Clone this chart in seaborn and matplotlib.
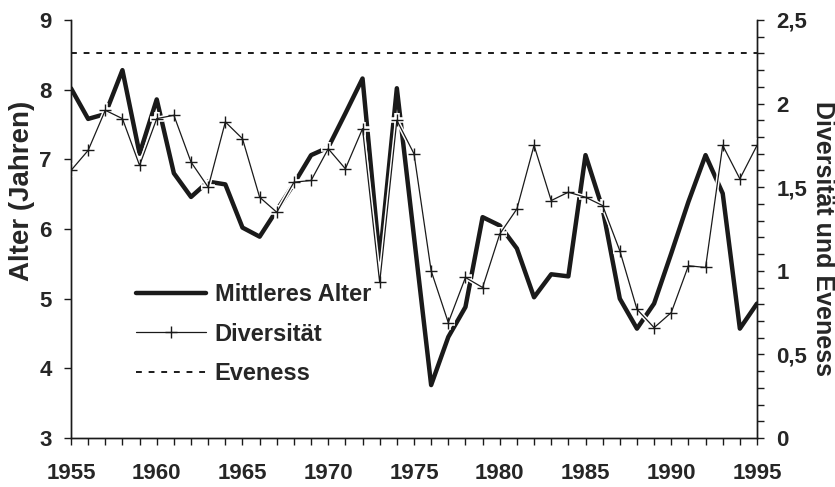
import numpy as np
import pandas as pd
import matplotlib
matplotlib.use('Agg')
import matplotlib.pyplot as plt
from matplotlib.ticker import MultipleLocator, FuncFormatter
import seaborn as sns

years = list(range(1955, 1996))

# mean age (left axis)
mittleres_alter = [8.02, 7.58, 7.65, 8.28, 7.08, 7.86, 6.80, 6.46, 6.68, 6.64,
                   6.02, 5.89, 6.27, 6.65, 7.06, 7.17, 7.66, 8.16, 5.56, 8.02,
                   5.89, 3.76, 4.45, 4.88, 6.17, 6.05, 5.72, 5.02, 5.35, 5.32,
                   7.06, 6.29, 5.00, 4.57, 4.93, 5.65, 6.39, 7.06, 6.51, 4.57,
                   4.93]

# diversity (right axis)
diversitaet = [1.60, 1.72, 1.96, 1.91, 1.63, 1.91, 1.93, 1.65, 1.50, 1.89,
               1.79, 1.44, 1.35, 1.53, 1.54, 1.73, 1.61, 1.85, 0.93, 1.90,
               1.70, 1.00, 0.69, 0.96, 0.90, 1.22, 1.37, 1.75, 1.42, 1.47,
               1.44, 1.39, 1.12, 0.77, 0.66, 0.75, 1.03, 1.02, 1.75, 1.55,
               1.75]

# evenness (right axis, constant)
eveness = [2.30] * len(years)

df = pd.DataFrame({'Jahr': years, 'Alter': mittleres_alter,
                   'Diversitaet': diversitaet, 'Eveness': eveness})

sns.set_style('white')
plt.rcParams['font.family'] = ['Liberation Sans', 'DejaVu Sans']
plt.rcParams['font.weight'] = 'bold'

ink = '#1a1a1a'
fig = plt.figure(figsize=(8.35, 4.87), dpi=100)
ax = fig.add_axes([0.085, 0.1006, 0.8216, 0.8584])
ax2 = ax.twinx()

sns.lineplot(data=df, x='Jahr', y='Alter', ax=ax, color=ink,
             linewidth=3.2, label='Mittleres Alter', legend=False)
# white halo under the thin series
sns.lineplot(data=df, x='Jahr', y='Diversitaet', ax=ax2, color='white',
             linewidth=3, marker='+', markersize=10, markeredgewidth=4,
             markeredgecolor='white', legend=False)
sns.lineplot(data=df, x='Jahr', y='Diversitaet', ax=ax2, color=ink,
             linewidth=0.9, marker='+', markersize=9, markeredgewidth=1.0,
             markeredgecolor=ink, label='Diversität', legend=False)
sns.lineplot(data=df, x='Jahr', y='Eveness', ax=ax2, color=ink,
             linewidth=1.4, linestyle=(0, (3, 3.5)),
             label='Eveness', legend=False)

ax.set_xlim(1955, 1995)
ax.set_ylim(3, 9)
ax2.set_ylim(0, 2.5)

for a in (ax, ax2):
    a.spines['top'].set_visible(False)
    for s in a.spines.values():
        s.set_linewidth(1.0)
        s.set_color(ink)

ax.xaxis.set_major_locator(MultipleLocator(5))
ax.xaxis.set_minor_locator(MultipleLocator(1))
ax.yaxis.set_major_locator(MultipleLocator(1))
ax2.yaxis.set_major_locator(MultipleLocator(0.5))
ax2.yaxis.set_minor_locator(MultipleLocator(0.1))
ax2.yaxis.set_major_formatter(FuncFormatter(lambda v, p: f'{v:g}'.replace('.', ',')))

ax.tick_params(axis='x', which='both', direction='out', length=5, width=1,
               bottom=True, labelsize=16, pad=13, color=ink)
ax.tick_params(axis='y', which='major', direction='out', length=5, width=1,
               left=True, labelsize=16, pad=9, color=ink)
ax2.tick_params(axis='y', which='both', direction='out', length=5, width=1,
                right=True, labelsize=16, pad=9, color=ink)

for lab in ax.get_xticklabels() + ax.get_yticklabels() + ax2.get_yticklabels():
    lab.set_fontweight('bold')

ax.set_xlabel('')
ax.set_ylabel('Alter (Jahren)', fontsize=20, fontweight='bold')
ax.yaxis.set_label_coords(-0.053, 0.59)
ax2.set_ylabel('Diversität und Eveness', fontsize=18, fontweight='bold',
               rotation=270, va='bottom')
ax2.yaxis.set_label_coords(1.078, 0.478)

h1, l1 = ax.get_legend_handles_labels()
h2, l2 = ax2.get_legend_handles_labels()
ax2.legend(h1 + h2, l1 + l2, loc='upper left', bbox_to_anchor=(0.07, 0.41),
           frameon=False, prop={'size': 17, 'weight': 'bold'},
           handlelength=3.0, handletextpad=0.35, labelspacing=0.7,
           borderpad=0.2)

fig.savefig('out.png', dpi=100)
